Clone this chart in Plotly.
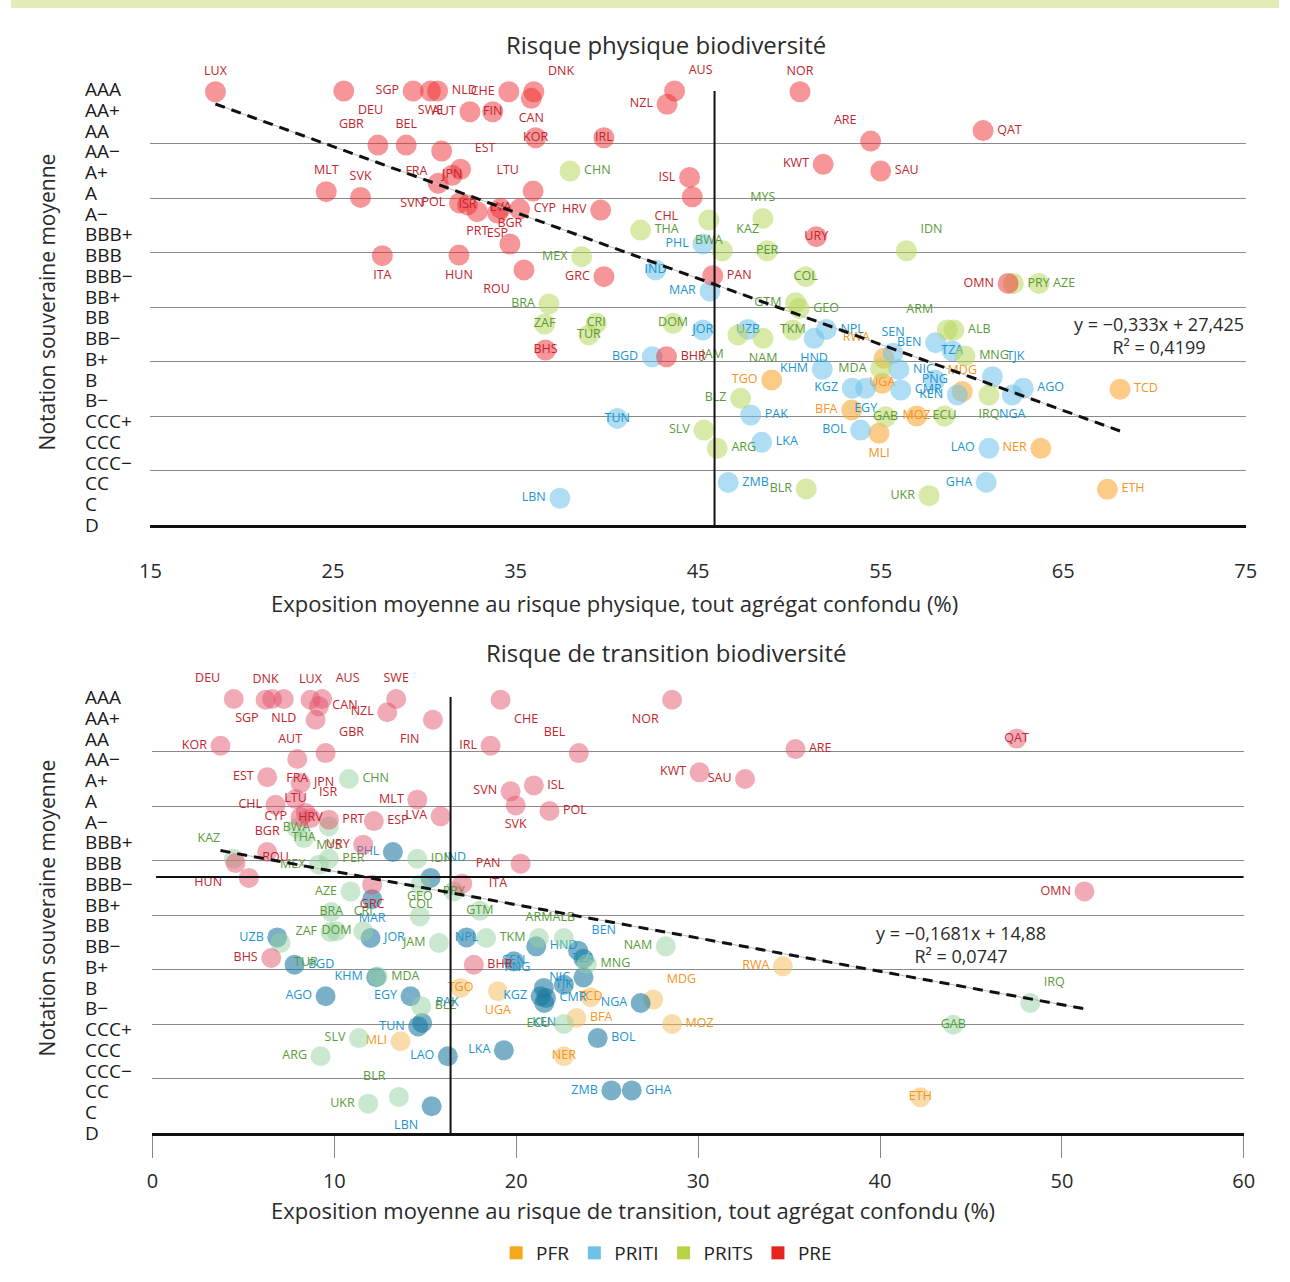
import plotly.graph_objects as go

W, H = 1290, 1282
FONT = "Open Sans"
# horizontal calibration of the photographed page (paper -> screen)
XOFF, XSPAN = 10.6, 1267.6

RATING_LABELS = ["AAA", "AA+", "AA", "AA−", "A+", "A", "A−", "BBB+", "BBB", "BBB−", "BB+",
                 "BB", "BB−", "B+", "B", "B−", "CCC+", "CCC", "CCC−", "CC", "C", "D"]

CODES = ["LUX", "DEU", "SGP", "SWE", "NLD", "CHE", "DNK", "CAN", "AUT", "FIN",
         "AUS", "NZL", "NOR", "GBR", "BEL", "KOR", "IRL", "ARE", "QAT", "FRA",
         "EST", "JPN", "SVN", "LTU", "MLT", "SVK", "POL", "ISR", "PRT", "LVA",
         "CYP", "ESP", "CHN", "KWT", "SAU", "ISL", "CHL", "HRV", "BWA", "MYS",
         "THA", "PHL", "KAZ", "PER", "URY", "IDN", "BGR", "ITA", "HUN", "ROU",
         "MEX", "GRC", "IND", "PAN", "COL", "MAR", "OMN", "PRY", "AZE", "BRA",
         "ZAF", "BHS", "LBN", "GTM", "GEO", "CRI", "TUR", "DOM", "JOR", "UZB",
         "JAM", "NAM", "TKM", "HND", "NPL", "BGD", "BHR", "TGO", "KHM", "BLZ",
         "PAK", "TUN", "SLV", "ARG", "LKA", "ZMB", "BLR", "UKR", "KGZ", "EGY",
         "UGA", "BFA", "GAB", "BOL", "MLI", "MOZ", "ECU", "MDA", "RWA", "SEN",
         "NIC", "CMR", "PNG", "BEN", "ARM", "ALB", "TZA", "MNG", "TJK", "MDG",
         "KEN", "IRQ", "NGA", "AGO", "TCD", "LAO", "NER", "GHA", "ETH"]

GROUPS = ["PRE"] * 10 + ["PRE"] * 10 + ["PRE"] * 10 + \
    ["PRE", "PRE", "PRITS", "PRE", "PRE", "PRE", "PRE", "PRE", "PRITS", "PRITS",
     "PRITS", "PRITI", "PRITS", "PRITS", "PRE", "PRITS", "PRE", "PRE", "PRE", "PRE",
     "PRITS", "PRE", "PRITI", "PRE", "PRITS", "PRITI", "PRE", "PRITS", "PRITS", "PRITS",
     "PRITS", "PRE", "PRITI", "PRITS", "PRITS", "PRITS", "PRITS", "PRITS", "PRITI", "PRITI",
     "PRITS", "PRITS", "PRITS", "PRITI", "PRITI", "PRITI", "PRE", "PFR", "PRITI", "PRITS",
     "PRITI", "PRITI", "PRITS", "PRITS", "PRITI", "PRITI", "PRITS", "PRITS", "PRITI", "PRITI",
     "PFR", "PFR", "PRITS", "PRITI", "PFR", "PFR", "PRITS", "PRITS", "PFR", "PRITI",
     "PRITI", "PRITI", "PRITI", "PRITI", "PRITS", "PRITS", "PRITI", "PRITS", "PRITI", "PFR",
     "PRITI", "PRITS", "PRITI", "PRITI", "PFR", "PRITI", "PFR", "PRITI", "PFR"]

# Average sovereign rating on a 0-22 scale (AAA = 22)
RATING = [21.86, 21.9, 21.9, 21.9, 21.9, 21.86, 21.86, 21.53, 20.85, 20.85,
          21.9, 21.23, 21.86, 19.17, 19.17, 19.54, 19.54, 19.37, 19.9, 18.87,
          17.95, 17.65, 17.24, 16.85, 16.82, 16.53, 16.25, 16.15, 15.81, 15.98,
          15.94, 15.74, 17.86, 18.2, 17.86, 17.54, 16.56, 15.89, 15.39, 15.47,
          14.88, 14.18, 13.84, 13.84, 14.55, 13.84, 14.18, 13.59, 13.62, 12.87,
          13.54, 12.53, 12.87, 12.58, 12.53, 11.8, 12.19, 12.19, 12.19, 11.15,
          10.14, 8.83, 1.35, 11.22, 10.93, 10.18, 9.59, 10.18, 9.84, 9.87,
          9.59, 9.42, 9.84, 9.42, 9.87, 8.49, 8.49, 7.32, 7.86, 6.39,
          5.55, 5.38, 4.79, 3.87, 4.17, 2.15, 1.82, 1.48, 6.9, 6.9,
          7.15, 5.8, 5.46, 4.79, 4.63, 5.5, 5.5, 7.9, 8.41, 8.66,
          7.85, 6.81, 7.32, 9.2, 9.84, 9.84, 8.79, 8.53, 7.48, 6.73,
          6.56, 6.56, 6.56, 6.9, 6.85, 3.87, 3.87, 2.15, 1.8]

EXPO_PHYS = [18.56, 25.59, 29.39, 30.34, 30.73, 34.63, 36.0, 35.86, 32.5, 33.75,
             43.71, 43.3, 50.58, 27.46, 29.01, 36.1, 39.84, 54.45, 60.61, 30.95,
             31.99, 31.53, 30.76, 35.96, 24.63, 26.51, 31.93, 32.37, 32.9, 34.18,
             35.22, 34.01, 37.98, 51.85, 55.0, 44.53, 44.68, 39.66, 45.59, 48.55,
             41.85, 45.26, 46.32, 48.78, 51.47, 56.41, 34.69, 27.7, 31.9, 35.46,
             38.62, 39.84, 42.67, 45.8, 50.89, 45.65, 61.98, 62.27, 63.67, 36.83,
             36.59, 36.64, 37.43, 50.34, 50.53, 39.42, 39.02, 43.63, 45.26, 47.73,
             47.18, 48.56, 50.19, 51.35, 52.02, 42.49, 43.27, 49.03, 51.8, 47.33,
             47.88, 40.57, 45.32, 46.05, 48.48, 46.65, 50.92, 57.65, 53.44, 54.18,
             55.09, 53.41, 55.27, 53.9, 54.91, 56.97, 58.5, 55.0, 55.18, 55.68,
             56.0, 56.1, 57.96, 58.01, 58.65, 59.01, 58.92, 59.62, 61.12, 59.47,
             59.2, 60.93, 62.21, 62.81, 68.11, 60.93, 63.77, 60.78, 67.42]

EXPO_TRANS = [8.69, 4.47, 6.58, 13.40, 7.22, 19.14, 6.22, 9.15, 8.97, 15.42,
              9.33, 12.91, 28.57, 9.52, 23.44, 3.74, 18.59, 35.35, 47.51, 7.96,
              6.31, 8.14, 19.69, 7.87, 14.56, 19.97, 21.83, 8.42, 9.70, 15.84,
              8.14, 12.17, 10.80, 30.08, 32.58, 20.97, 6.77, 8.69, 7.92, 9.70,
              8.32, 13.22, 4.47, 9.70, 11.59, 14.56, 6.31, 20.24, 4.57, 5.30,
              9.15, 12.08, 15.29, 17.03, 14.74, 12.08, 51.24, 16.57, 10.89, 9.83,
              9.79, 6.53, 15.35, 18.0, 14.70, 11.59, 7.04, 10.12, 11.99, 6.86,
              15.75, 28.22, 18.35, 21.10, 17.27, 7.81, 17.67, 16.94, 12.30, 14.78,
              14.83, 14.61, 11.35, 9.24, 19.32, 25.23, 13.55, 11.86, 21.34, 14.19,
              18.99, 23.31, 44.03, 24.48, 13.64, 28.57, 22.62, 12.39, 34.66, 19.87,
              23.70, 21.64, 21.52, 23.40, 21.25, 22.62, 23.70, 23.89, 22.62, 27.53,
              21.54, 48.26, 26.84, 9.52, 24.09, 16.24, 22.62, 26.35, 42.22]

GROUP_NAMES = ["PFR", "PRITI", "PRITS", "PRE"]

# Trend lines shown on the chart
PHYS_SLOPE, PHYS_INTERCEPT, PHYS_R2 = -0.333, 27.425, 0.4199
TRANS_SLOPE, TRANS_INTERCEPT, TRANS_R2 = -0.1681, 14.88, 0.0747
# Reference (average) lines
PHYS_REF_X = 45.9
TRANS_REF_X = 16.39
TRANS_REF_Y = 12.92

# ---------------- styles ----------------
POS = {"T": "top center", "B": "bottom center", "L": "middle left", "R": "middle right",
       "C": "middle center", "TL": "top left", "TR": "top right", "BL": "bottom left",
       "BR": "bottom right"}

LBL_TOP = dict(LUX="T", DEU="BR", SGP="L", SWE="B", NLD="R", CHE="L", DNK="TR", CAN="B", AUT="L",
               FIN="C", AUS="TR", NZL="L", NOR="T", GBR="TL", BEL="T", KOR="C", IRL="C", ARE="TL",
               QAT="R", FRA="BL", EST="TR", JPN="C", SVN="BL", LTU="TL", MLT="T", SVK="T", POL="L",
               ISR="C", PRT="B", LVA="C", CYP="R", ESP="B", CHN="R", KWT="L", SAU="R", ISL="L",
               CHL="BL", HRV="L", BWA="B", MYS="T", THA="R", PHL="L", KAZ="TR", PER="C", URY="C",
               IDN="TR", BGR="T", ITA="B", HUN="B", ROU="BL", MEX="L", GRC="L", IND="C", PAN="R",
               COL="C", MAR="L", OMN="L", PRY="R", AZE="R", BRA="L", ZAF="C", BHS="C", LBN="L",
               GTM="L", GEO="R", CRI="C", TUR="C", DOM="C", JOR="C", UZB="C", JAM="BL", NAM="B",
               TKM="C", HND="B", NPL="R", BGD="L", BHR="R", TGO="L", KHM="L", BLZ="L", PAK="R",
               TUN="C", SLV="L", ARG="R", LKA="R", ZMB="R", BLR="L", UKR="L", KGZ="L", EGY="B",
               UGA="C", BFA="L", GAB="C", BOL="L", MLI="B", MOZ="C", ECU="C", MDA="L", RWA="TL",
               SEN="T", NIC="R", CMR="R", PNG="C", BEN="L", ARM="TL", ALB="R", TZA="C", MNG="R",
               TJK="TR", MDG="T", KEN="L", IRQ="B", NGA="B", AGO="R", TCD="R", LAO="L", NER="L",
               GHA="L", ETH="R")

LBL_BOT = dict(DEU="TL", DNK="T", SGP="BL", NLD="B", LUX="T", AUS="TR", CAN="R", AUT="BL", SWE="T",
               NZL="L", FIN="BL", CHE="BR", KOR="L", GBR="TR", IRL="L", FRA="B", EST="L", JPN="R",
               CHN="R", CHL="L", LTU="C", MLT="L", SVN="L", ISL="R", SVK="B", POL="R", ISR="TR",
               CYP="L", HRV="C", PRT="R", ESP="R", LVA="L", BWA="C", MYS="B", THA="C", URY="L",
               PHL="L", IDN="R", KAZ="TL", BGR="T", MEX="L", PER="R", HUN="BL", ROU="TR", IND="TR",
               PAN="TR", ITA="BL", PRY="C", GRC="B", COL="B", AZE="L", MAR="B", GEO="T", BRA="C",
               GTM="C", UZB="L", TUR="BR", BHS="L", BGD="R", ZAF="L", DOM="C", CRI="T", JOR="R",
               JAM="L", NPL="C", TKM="R", BHR="R", KHM="L", MDA="R", AGO="L", EGY="L", BLZ="R",
               TUN="L", PAK="TR", MLI="L", SLV="L", ARG="L", LAO="L", LKA="L", UKR="L", BLR="TL",
               LBN="BL", TGO="C", UGA="B", SEN="C", HND="R", ARM="T", PNG="TL", ALB="T", BEN="TR",
               TZA="C", MNG="R", NIC="L", TJK="C", CMR="R", KEN="B", KGZ="L", ECU="L", BFA="R",
               TCD="C", NGA="L", MDG="TR", MOZ="R", BOL="R", NER="C", NAM="L", RWA="L", IRQ="TR",
               GAB="C", ZMB="L", GHA="R", ETH="C", OMN="L", NOR="BL", BEL="TL", KWT="L", SAU="L",
               ARE="R", QAT="C")

TEXT_COL = {"PFR": "#F7941D", "PRITI": "#1B95D0", "PRITS": "#5A9B3A", "PRE": "#C0262D"}
FILL_TOP = {"PFR": "rgba(248,168,55,0.6)", "PRITI": "rgba(110,195,235,0.55)",
            "PRITS": "rgba(185,215,95,0.55)", "PRE": "rgba(238,45,50,0.5)"}
FILL_BOT = {"PFR": "rgba(245,185,85,0.5)", "PRITI": "rgba(25,120,160,0.58)",
            "PRITS": "rgba(150,210,160,0.5)", "PRE": "rgba(225,80,105,0.48)"}
LEGEND_COL = {"PFR": "#F5A81C", "PRITI": "#6CC3E6", "PRITS": "#B8D445", "PRE": "#E52421"}
STRIP = "#E3ECB4"


def fx(p):
    return (p - XOFF) / XSPAN


def px_y(p):
    return 1 - p / H


fig = go.Figure()

charts = [
    (EXPO_PHYS, "x", "y", LBL_TOP, FILL_TOP, 21, PHYS_SLOPE, PHYS_INTERCEPT),
    (EXPO_TRANS, "x2", "y2", LBL_BOT, FILL_BOT, 20, TRANS_SLOPE, TRANS_INTERCEPT),
]

for xs, xa, ya, lbl, fill, msize, slope, icpt in charts:
    for g in GROUP_NAMES:
        idx = [i for i, gg in enumerate(GROUPS) if gg == g]
        fig.add_trace(go.Scatter(
            x=[xs[i] for i in idx], y=[RATING[i] for i in idx],
            text=[CODES[i] for i in idx], mode="markers+text",
            textposition=[POS[lbl[CODES[i]]] for i in idx],
            marker=dict(size=msize, color=fill[g], line=dict(width=0)),
            textfont=dict(family=FONT, size=12.5, color=TEXT_COL[g]),
            xaxis=xa, yaxis=ya, showlegend=False, cliponaxis=False, hoverinfo="text"))
    x0, x1 = min(xs), max(xs)
    ly = [slope * x0 + icpt, slope * x1 + icpt]
    fig.add_trace(go.Scatter(x=[x0, x1], y=ly, mode="lines", line=dict(color="#bbbbbb", width=1),
                             xaxis=xa, yaxis=ya, showlegend=False, hoverinfo="skip"))
    fig.add_trace(go.Scatter(x=[x0, x1], y=ly, mode="lines",
                             line=dict(color="#111111", width=3, dash="10px,7px"),
                             xaxis=xa, yaxis=ya, showlegend=False, hoverinfo="skip"))

for g in GROUP_NAMES:
    fig.add_trace(go.Scatter(x=[None], y=[None], mode="markers", name=g,
                             marker=dict(symbol="square", size=13, color=LEGEND_COL[g]),
                             xaxis="x2", yaxis="y2", showlegend=True))

shapes = [
    dict(type="rect", xref="paper", yref="paper", x0=0, x1=1, y0=px_y(8), y1=1,
         fillcolor=STRIP, line=dict(width=0), layer="below"),
    dict(type="line", xref="x", yref="y", x0=PHYS_REF_X, x1=PHYS_REF_X, y0=0, y1=21.9,
         line=dict(color="#111", width=2)),
    dict(type="line", xref="x2", yref="y2", x0=TRANS_REF_X, x1=TRANS_REF_X, y0=0, y1=22,
         line=dict(color="#111", width=2)),
    dict(type="line", xref="x2", yref="y2", x0=0.2, x1=60, y0=TRANS_REF_Y, y1=TRANS_REF_Y,
         line=dict(color="#111", width=2)),
]

ann = []
TXT = "#2a2a2a"


def note(text, x, y, size, **kw):
    d = dict(text=text, x=fx(x), y=px_y(y), xref="paper", yref="paper", showarrow=False,
             xanchor="center", yanchor="middle", font=dict(family=FONT, size=size, color=TXT))
    d.update(kw)
    ann.append(d)


note("Risque physique biodiversité", 665, 44, 24)
note("Risque de transition biodiversité", 665, 652, 24)
note("Exposition moyenne au risque physique, tout agrégat confondu (%)", 614, 603, 22)
note("Exposition moyenne au risque de transition, tout agrégat confondu (%)", 632, 1210, 22)
note("Notation souveraine moyenne", 47, 302, 21, textangle=-90)
note("Notation souveraine moyenne", 47, 908, 21, textangle=-90)

for yref in ("y", "y2"):
    n = len(RATING_LABELS)
    for i, lab in enumerate(RATING_LABELS):
        ann.append(dict(text=lab, x=fx(83), xref="paper", xanchor="left", y=22 - i * 22 / (n - 1),
                        yref=yref, yanchor="middle", showarrow=False,
                        font=dict(family=FONT, size=19, color="#1a1a1a")))


def fmt(v, nd):
    return f"{v:.{nd}f}".replace(".", ",").replace("-", "−")


note(f"y = {fmt(PHYS_SLOPE, 3)}x + {fmt(PHYS_INTERCEPT, 3)}<br>R² = {fmt(PHYS_R2, 4)}",
     1158, 336, 18)
note(f"y = {fmt(TRANS_SLOPE, 4)}x + {fmt(TRANS_INTERCEPT, 2)}<br>R² = {fmt(TRANS_R2, 4)}",
     960, 944, 18)

axis_common = dict(showgrid=False, zeroline=False, showline=True, linecolor="#111", linewidth=3,
                   tickfont=dict(family=FONT, size=20, color="#2a2a2a"))
yaxis_common = dict(range=[0, 22], tickmode="linear", tick0=0, dtick=2.75, showgrid=True,
                    gridcolor="#8a8a8a", gridwidth=1.3, zeroline=False, showticklabels=False,
                    ticks="", showline=False)

fig.update_layout(
    width=W, height=H, autosize=False, margin=dict(l=0, r=0, t=0, b=0),
    paper_bgcolor="white", plot_bgcolor="rgba(0,0,0,0)",
    font=dict(family=FONT),
    xaxis=dict(domain=[fx(150), fx(1245)], range=[15, 75], tickmode="linear", tick0=15, dtick=10,
               ticks="", ticklabelstandoff=26, anchor="y", **axis_common),
    yaxis=dict(domain=[px_y(525), px_y(89)], anchor="x", **yaxis_common),
    xaxis2=dict(domain=[fx(152), fx(1243)], range=[0, 60], tickmode="linear", tick0=0, dtick=10,
                ticks="outside", ticklen=22, tickcolor="#888", tickwidth=1, ticklabelstandoff=6,
                anchor="y2", **axis_common),
    yaxis2=dict(domain=[px_y(1133), px_y(697)], anchor="x2", **yaxis_common),
    shapes=shapes, annotations=ann,
    legend=dict(orientation="h", x=fx(666), xanchor="center", y=px_y(1253), yanchor="middle",
                font=dict(family=FONT, size=19, color="#222"), itemwidth=30,
                bgcolor="rgba(0,0,0,0)"),
)

POST = ("var bg='linear-gradient(to right, %s 0px, %s 8px, #ffffff 8px)';"
        "document.documentElement.style.margin='0';document.body.style.margin='0';"
        "document.body.style.overflow='hidden';document.documentElement.style.overflow='hidden';"
        "document.documentElement.style.background=bg;document.body.style.background=bg;"
        "var gd=document.getElementById('{plot_id}');"
        "Plotly.relayout(gd,{width:%d,height:%d});" % (STRIP, STRIP, W, H))

fig.write_html("out.html", config={"responsive": False, "displayModeBar": False},
               post_script=POST)
